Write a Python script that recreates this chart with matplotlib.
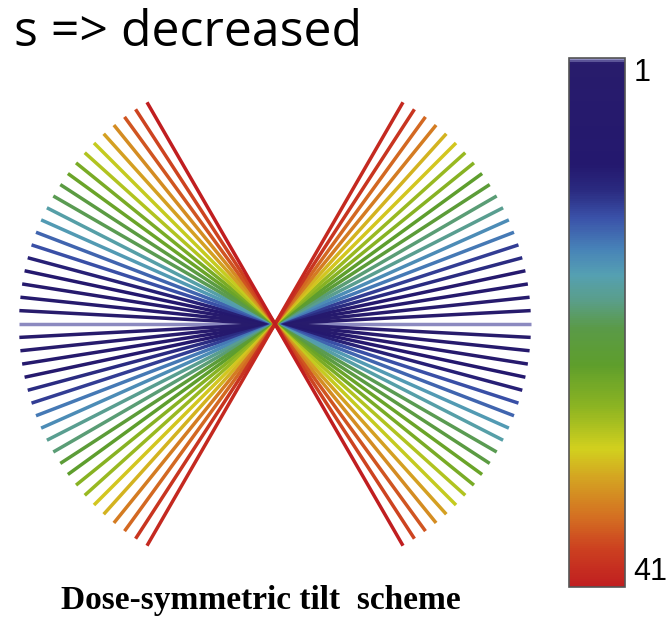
import numpy as np
import matplotlib
matplotlib.use("Agg")
import matplotlib.pyplot as plt
from matplotlib.colors import LinearSegmentedColormap, Normalize
from matplotlib.cm import ScalarMappable

# Acquisition order of the dose-symmetric tilt scheme (degrees)
tilt_order = [0, 3, -3, -6, 6, 9, -9, -12, 12, 15, -15, -18, 18, 21, -21,
              -24, 24, 27, -27, -30, 30, 33, -33, -36, 36, 39, -39, -42, 42,
              45, -45, -48, 48, 51, -51, -54, 54, 57, -57, -60, 60]
cbar_ticks = [1, 41]
cbar_ticklabels = ["1", "41"]
title_text = "s => decreased"
caption_text = "Dose-symmetric tilt  scheme"

cmap_stops = [
    (0.000, "#8c8ac0"),
    (0.008, "#281c6c"),
    (0.200, "#24186e"),
    (0.250, "#2a2a80"),
    (0.300, "#3a50a8"),
    (0.360, "#4782b8"),
    (0.410, "#55a0b2"),
    (0.460, "#5a9e88"),
    (0.510, "#5a9a48"),
    (0.580, "#5e9e2c"),
    (0.660, "#8cb422"),
    (0.740, "#d2d01e"),
    (0.800, "#d4a022"),
    (0.870, "#d46e22"),
    (0.930, "#cc4020"),
    (1.000, "#c01e20"),
]
cmap = LinearSegmentedColormap.from_list("dose", cmap_stops)

W, H = 669, 618
fig = plt.figure(figsize=(W / 100, H / 100), dpi=100)

# Main fan axes: centre at (275, 324) px, radius ~256 px
cx, cy, R = 275, 324, 256
ax = fig.add_axes([(cx - R) / W, (H - cy - R) / H, 2 * R / W, 2 * R / H])
ax.set_xlim(-1, 1)
ax.set_ylim(-1, 1)
ax.axis("off")

n = len(tilt_order)
for i, ang in enumerate(tilt_order):
    t = np.deg2rad(ang)
    xs = [-np.cos(t), np.cos(t)]
    ys = [np.sin(t), -np.sin(t)]
    ax.plot(xs, ys, color=cmap(i / (n - 1)), lw=2.5, solid_capstyle="butt",
            clip_on=False, zorder=i)

# Colorbar
cax = fig.add_axes([569 / W, (H - 587) / H, 56 / W, (587 - 58) / H])
sm = ScalarMappable(norm=Normalize(1, 41), cmap=cmap)
cb = fig.colorbar(sm, cax=cax, orientation="vertical")
cax.invert_yaxis()
cb.set_ticks(cbar_ticks)
cb.set_ticklabels(cbar_ticklabels)
cax.tick_params(length=0, labelsize=22, pad=6)
labs = cax.get_yticklabels()
for lab in labs:
    lab.set_fontfamily("Liberation Sans")
labs[0].set_verticalalignment("top")
labs[1].set_verticalalignment("bottom")
cb.outline.set_edgecolor("#555555")
cb.outline.set_linewidth(1.2)

fig.text(362 / W, 1 - 46 / H, title_text, ha="right", va="baseline",
         fontsize=36, family=["Open Sans", "DejaVu Sans"])
fig.text(261 / W, 1 - 609 / H, caption_text, ha="center", va="baseline",
         fontsize=24, fontweight="bold", family=["Liberation Serif", "DejaVu Serif"])

fig.savefig("out.png", dpi=100)
